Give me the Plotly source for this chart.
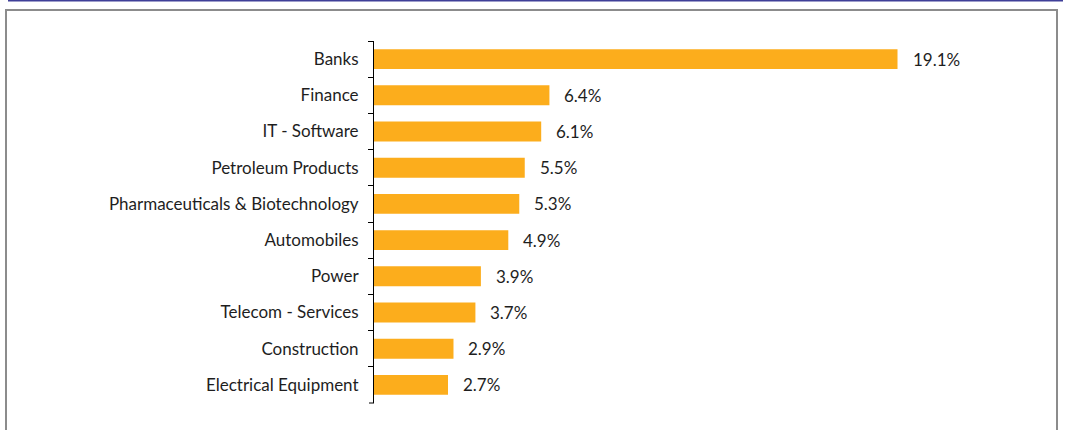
import plotly.graph_objects as go

# Sector allocation (% of net assets)
sectors = [
    "Banks",
    "Finance",
    "IT - Software",
    "Petroleum Products",
    "Pharmaceuticals & Biotechnology",
    "Automobiles",
    "Power",
    "Telecom - Services",
    "Construction",
    "Electrical Equipment",
]
weights = [19.1, 6.4, 6.1, 5.5, 5.3, 4.9, 3.9, 3.7, 2.9, 2.7]
weight_labels = ["19.1%", "6.4%", "6.1%", "5.5%", "5.3%", "4.9%", "3.9%", "3.7%", "2.9%", "2.7%"]

W, H = 1071, 430
ML, MR, MT, MB = 374, 94, 41, 27
FONT = "Lato"
FSIZE = 17
TEXT_COLOR = "#1E1E1E"
BAR_COLOR = "#FCAD1C"

fig = go.Figure(
    go.Bar(
        x=weights,
        y=sectors,
        orientation="h",
        marker=dict(color=BAR_COLOR, line=dict(width=0)),
        hoverinfo="skip",
    )
)

# value labels to the right of each bar
for s, v, t in zip(sectors, weights, weight_labels):
    fig.add_annotation(
        x=v, y=s, text=t, showarrow=False,
        xanchor="left", yanchor="middle", xshift=13,
        font=dict(family=FONT, size=FSIZE, color=TEXT_COLOR),
    )

# convert pixel positions to paper coordinates for the frame
pw, ph = W - ML - MR, H - MT - MB
def px(x):
    return (x - ML) / pw
def py(y):
    return 1 - (y - MT) / ph

fig.add_shape(type="rect", xref="paper", yref="paper",
              x0=px(6), x1=px(1057), y0=py(10), y1=py(440),
              line=dict(color="#8C8C8C", width=2), fillcolor="rgba(0,0,0,0)", layer="below")
fig.add_shape(type="line", xref="paper", yref="paper",
              x0=px(8), x1=px(1063), y0=py(0.5), y1=py(0.5),
              line=dict(color="#3F3F98", width=2))
# closing tick at the bottom end of the category axis
fig.add_shape(type="line", xref="paper", yref="paper",
              x0=px(369), x1=0, y0=0, y1=0,
              line=dict(color="black", width=1))

fig.update_layout(
    width=W, height=H,
    margin=dict(l=ML, r=MR, t=MT, b=MB),
    paper_bgcolor="white", plot_bgcolor="white",
    bargap=0.45,
    showlegend=False,
    font=dict(family=FONT, size=FSIZE, color=TEXT_COLOR),
    xaxis=dict(range=[0, 22], visible=False, fixedrange=True),
    yaxis=dict(
        type="category",
        autorange="reversed",
        showline=True, linecolor="black", linewidth=1,
        ticks="outside", ticklen=5, tickcolor="black", tickwidth=1,
        tickson="boundaries",
        ticklabelstandoff=11,
        showgrid=False, zeroline=False,
        tickfont=dict(family=FONT, size=FSIZE, color=TEXT_COLOR),
        fixedrange=True,
    ),
)

fig.write_html("out.html")
